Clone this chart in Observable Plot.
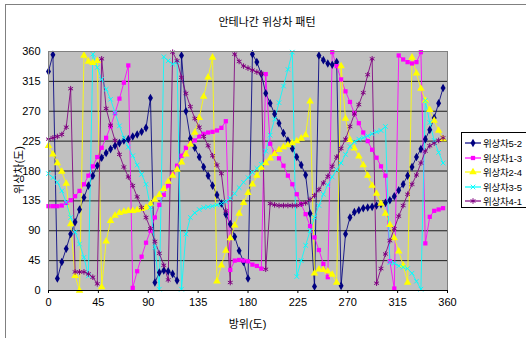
<!DOCTYPE html>
<html>
<head>
<meta charset="utf-8">
<script src="https://cdn.jsdelivr.net/npm/d3@7"></script>
<script src="https://cdn.jsdelivr.net/npm/@observablehq/plot@0.6"></script>
<style>
  html, body { margin: 0; padding: 0; background: #fff; }
  #wrap { position: relative; width: 526px; height: 338px; overflow: hidden;
          font-family: "Liberation Sans", "Noto Sans CJK KR", sans-serif; }
  #border { position: absolute; left: 5px; top: 4px; width: 700px; height: 500px;
            border: 1px solid #808080; box-sizing: border-box; }
  #chart { position: absolute; left: 0; top: 0; }
  .txt { position: absolute; white-space: nowrap; color: #000; font-size: 11px; }
  #title { left: 0; width: 534px; top: 13px; text-align: center; font-size: 11px; }
  #xlabel { left: 0; width: 495px; top: 315px; text-align: center; }
  #ylabel { left: 18px; top: 170px; transform: translate(-50%, -50%) rotate(-90deg); }
  #legend { position: absolute; left: 461px; top: 132px; width: 90px; height: 76px;
            background: #fff; border: 1px solid #000; box-sizing: border-box; }
  .leg { position: absolute; left: 2px; height: 14px; display: flex; align-items: center;
         font-size: 9.5px; letter-spacing: -0.2px; }
  .leg svg { margin-right: 1px; }
</style>
</head>
<body>
<div id="wrap">
  <div id="border"></div>
  <div id="chart"></div>
  <div id="title" class="txt">안테나간 위상차 패턴</div>
  <div id="xlabel" class="txt">방위(도)</div>
  <div id="ylabel" class="txt">위상차(도)</div>
  <div id="legend"></div>
</div>
<script>
// 방위 (degrees), one sample every 4 degrees
const angles = [0,4,8,12,16,20,24,28,32,36,40,44,48,52,56,60,64,68,72,76,80,84,88,92,96,100,104,108,112,116,120,124,128,132,136,140,144,148,152,156,160,164,168,172,176,180,184,188,192,196,200,204,208,212,216,220,224,228,232,236,240,244,248,252,256,260,264,268,272,276,280,284,288,292,296,300,304,308,312,316,320,324,328,332,336,340,344,348,352,356];

const s52 = [330,355,18,43,63,85,103,122,140,158,
  173,188,200,207,213,218,222,226,228,232,
  235,239,245,290,12,27,30,29,25,15,
  354,270,229,215,201,186,173,158,144,131,
  115,100,81,60,43,18,356,344,326,297,
  282,266,252,237,226,214,201,189,174,116,
  6,354,347,342,340,344,7,85,110,118,
  121,124,125,126,128,130,132,136,142,151,
  160,173,186,201,213,228,242,260,282,305];

const s13 = [127,127,127,128,132,136,142,150,160,173,
  187,201,215,230,247,267,289,313,339,4,
  29,51,72,90,110,129,144,158,175,188,
  203,215,221,226,232,236,238,239,241,245,
  255,31,45,46,45,44,39,37,33,326,
  221,208,199,188,173,160,145,130,115,97,
  80,61,40,20,359,338,318,300,284,267,
  252,238,225,212,200,187,173,44,3,354,
  348,344,342,344,359,71,111,120,122,124];

const s24 = [218,205,192,179,161,100,22,0,354,345,
  343,346,5,74,105,113,117,119,120,120,
  121,123,125,130,137,144,153,164,173,182,
  193,205,220,238,260,292,321,351,14,38,
  60,79,98,116,132,147,160,173,185,192,
  199,206,212,216,219,222,225,229,234,285,
  26,32,31,29,24,12,338,259,227,214,
  202,189,173,158,146,131,116,99,79,59,
  38,12,351,327,304,286,272,256,241,228];

const s35 = [176,170,163,150,133,110,88,70,50,22,
  356,336,318,303,288,268,248,230,216,203,
  189,175,160,125,65,2,352,346,341,344,
  2,85,110,117,122,125,126,127,129,131,
  134,139,146,155,163,170,178,184,190,210,
  234,258,283,308,333,359,21,45,68,90,
  110,128,145,159,171,182,192,205,217,224,
  228,230,233,236,239,241,247,42,41,37,
  35,33,26,14,2,286,253,226,208,192];

const s41 = [228,230,232,235,246,304,28,28,28,25,
  20,10,349,274,249,226,205,186,171,158,
  141,125,110,93,74,56,38,16,359,346,
  321,297,277,259,246,232,218,203,189,176,
  120,12,356,345,338,335,332,329,327,32,
  131,129,128,128,128,128,128,130,132,137,
  143,152,162,172,187,201,214,228,247,266,
  280,298,325,349,11,33,55,75,93,112,
  128,145,160,174,192,210,218,222,226,230];

const xTicks = [0,45,90,135,180,225,270,315,360];
const yTicks = [0,45,90,135,180,225,270,315,360];

const seriesNames = ["위상차5-2","위상차1-3","위상차2-4","위상차3-5","위상차4-1"];
const seriesValues = [s52, s13, s24, s35, s41];
const seriesColors = ["#000080","#ff00ff","#ffff00","#00ffff","#800080"];
const seriesSymbols = ["diamond","square","triangle","times","asterisk"];
const seriesFilled = [true, true, true, false, false];
const seriesR = [2.6, 2.4, 2.8, 2.2, 2.6];

const marks = [
  Plot.frame({fill: "#c0c0c0"}),
  Plot.gridY(yTicks, {stroke: "#000", strokeOpacity: 0.85, strokeWidth: 1})
];
seriesValues.forEach((vals, i) => {
  const rows = angles.map((a, j) => ({a, v: vals[j]}));
  marks.push(Plot.line(rows, {x: "a", y: "v", stroke: seriesColors[i], strokeWidth: 1, strokeOpacity: 0.85}));
});
seriesValues.forEach((vals, i) => {
  const rows = angles.map((a, j) => ({a, v: vals[j]}));
  const opts = {x: "a", y: "v", symbol: () => seriesSymbols[i], r: seriesR[i]};
  if (seriesFilled[i]) { opts.fill = seriesColors[i]; opts.stroke = "none"; }
  else { opts.stroke = seriesColors[i]; opts.fill = "none"; opts.strokeWidth = 1; }
  marks.push(Plot.dot(rows, opts));
});
marks.push(Plot.frame({stroke: "#808080"}));
marks.push(Plot.ruleY([0], {stroke: "#000"}));
marks.push(Plot.axisX(xTicks, {tickSize: 3, tickPadding: 5, fontSize: 11, label: null}));
marks.push(Plot.axisY(yTicks, {tickSize: 0, tickPadding: 8, fontSize: 11, label: null}));

const chart = Plot.plot({
  width: 526, height: 338,
  marginLeft: 48, marginRight: 79, marginTop: 51, marginBottom: 48,
  style: {background: "transparent", fontFamily: "'Liberation Sans','Noto Sans CJK KR',sans-serif", color: "#000"},
  x: {domain: [0, 360]},
  y: {domain: [0, 360]},
  symbol: {type: "identity"},
  marks
});
document.getElementById("chart").appendChild(chart);

// legend
const leg = document.getElementById("legend");
seriesNames.forEach((name, i) => {
  const row = document.createElement("div");
  row.className = "leg";
  row.style.top = (3 + i * 14.5) + "px";
  const ns = "http://www.w3.org/2000/svg";
  const svg = document.createElementNS(ns, "svg");
  svg.setAttribute("width", 18); svg.setAttribute("height", 12);
  const ln = document.createElementNS(ns, "line");
  ln.setAttribute("x1", 1); ln.setAttribute("x2", 17); ln.setAttribute("y1", 6); ln.setAttribute("y2", 6);
  ln.setAttribute("stroke", seriesColors[i]); ln.setAttribute("stroke-width", 1.2);
  svg.appendChild(ln);
  const symMap = {diamond: d3.symbolDiamond, square: d3.symbolSquare, triangle: d3.symbolTriangle, times: d3.symbolTimes, asterisk: d3.symbolAsterisk};
  const p = document.createElementNS(ns, "path");
  const area = Math.PI * seriesR[i] * seriesR[i];
  p.setAttribute("d", d3.symbol(symMap[seriesSymbols[i]], area)());
  p.setAttribute("transform", "translate(9,6)");
  if (seriesFilled[i]) { p.setAttribute("fill", seriesColors[i]); }
  else { p.setAttribute("fill", "none"); p.setAttribute("stroke", seriesColors[i]); }
  svg.appendChild(p);
  row.appendChild(svg);
  const t = document.createElement("span");
  t.textContent = name;
  row.appendChild(t);
  leg.appendChild(row);
});
</script>
</body>
</html>
